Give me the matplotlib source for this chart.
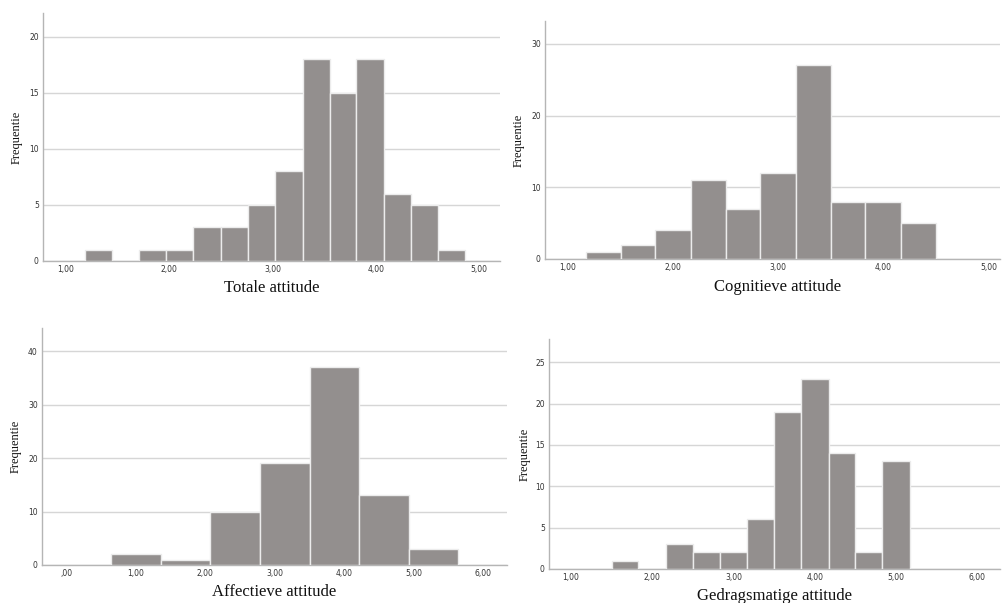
import matplotlib
matplotlib.use('Agg')
import matplotlib.pyplot as plt

# bin edges and counts
tot_edges = [1.18, 1.44, 1.71, 1.97, 2.23, 2.50, 2.76, 3.02, 3.29, 3.55, 3.81, 4.08, 4.34, 4.60, 4.86]
tot_counts = [1, 0, 1, 1, 3, 3, 5, 8, 18, 15, 18, 6, 5, 1]

cog_edges = [1.17, 1.50, 1.83, 2.17, 2.50, 2.83, 3.17, 3.50, 3.83, 4.17, 4.50]
cog_counts = [1, 2, 4, 11, 7, 12, 27, 8, 8, 5]

aff_edges = [0.64, 1.36, 2.07, 2.79, 3.50, 4.21, 4.93, 5.64]
aff_counts = [2, 1, 10, 19, 37, 13, 3]

ged_edges = [1.50, 1.83, 2.17, 2.50, 2.83, 3.17, 3.50, 3.83, 4.17, 4.50, 4.83, 5.17]
ged_counts = [1, 0, 3, 2, 2, 6, 19, 23, 14, 2, 13]

tot_xticks = [1, 2, 3, 4, 5]
cog_xticks = [1, 2, 3, 4, 5]
aff_xticks = [0, 1, 2, 3, 4, 5, 6]
ged_xticks = [1, 2, 3, 4, 5, 6]

tot_yticks = [0, 5, 10, 15, 20]
cog_yticks = [0, 10, 20, 30]
aff_yticks = [0, 10, 20, 30, 40]
ged_yticks = [0, 5, 10, 15, 20, 25]

W, H = 1002, 603
fig = plt.figure(figsize=(W / 100, H / 100), dpi=100)


def px_axes(l, r, t, b):
    return fig.add_axes([l / W, 1 - b / H, (r - l) / W, (b - t) / H])


def fmt(v):
    s = '%.2f' % v
    s = s.replace('.', ',')
    if s.startswith('0'):
        s = s[1:]
    return s


def hist_panel(ax, edges, counts, xticks, yticks, xlim, ylim, title, lx, ly, yx):
    lefts = edges[:-1]
    widths = [edges[i + 1] - edges[i] for i in range(len(counts))]
    ax.bar(lefts, counts, width=widths, align='edge', color='#938f8e',
           edgecolor='#ececec', linewidth=1.0, zorder=3)
    ax.set_xlim(*xlim)
    ax.set_ylim(*ylim)
    ax.set_xticks(xticks)
    ax.set_xticklabels([fmt(v) for v in xticks])
    ax.set_yticks(yticks)
    ax.grid(axis='y', color='#d6d6d6', linewidth=1.0, zorder=0)
    ax.tick_params(length=0, labelsize=5.5, colors='#333333', pad=3)
    for s in ['top', 'right']:
        ax.spines[s].set_visible(False)
    for s in ['left', 'bottom']:
        ax.spines[s].set_color('#b5b5b5')
        ax.spines[s].set_linewidth(1.0)
    ax.text(lx, ly, title, transform=ax.transAxes, ha='center', va='center',
            family='Liberation Serif', fontsize=12, color='#111111')
    ax.text(yx, 0.5, 'Frequentie', transform=ax.transAxes, ha='center', va='center',
            rotation=90, family='Liberation Serif', fontsize=9, color='#111111')


ax1 = px_axes(43, 500, 13, 261)
hist_panel(ax1, tot_edges, tot_counts, tot_xticks, tot_yticks, (0.777, 5.2), (0, 22.1),
           'Totale attitude', 0.501, -0.109, -0.057)

ax2 = px_axes(545, 1000, 21, 259)
hist_panel(ax2, cog_edges, cog_counts, cog_xticks, cog_yticks, (0.78, 5.11), (0, 33.2),
           'Cognitieve attitude', 0.512, -0.118, -0.057)

ax3 = px_axes(42, 507, 328, 565)
hist_panel(ax3, aff_edges, aff_counts, aff_xticks, aff_yticks, (-0.35, 6.34), (0, 44.3),
           'Affectieve attitude', 0.499, -0.114, -0.056)

ax4 = px_axes(549, 1000, 339, 569)
hist_panel(ax4, ged_edges, ged_counts, ged_xticks, ged_yticks, (0.73, 6.28), (0, 27.8),
           'Gedragsmatige attitude', 0.501, -0.117, -0.055)

fig.savefig('out.png', dpi=100, facecolor='white')
